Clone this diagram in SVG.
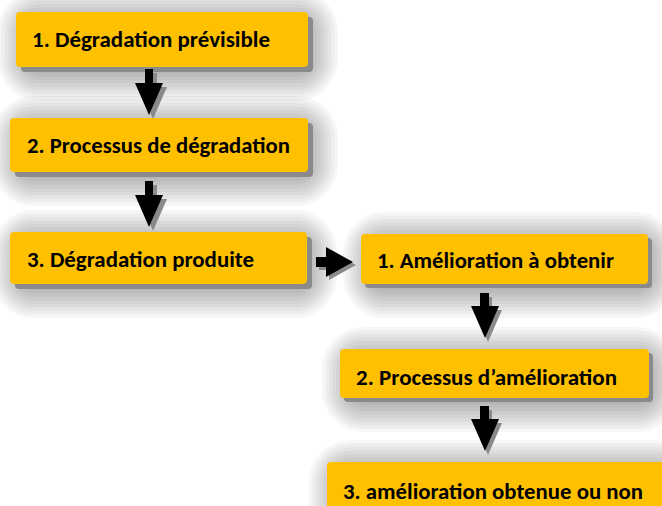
<svg xmlns="http://www.w3.org/2000/svg" width="662" height="506" viewBox="0 0 662 506">
<defs>
<rect id="s1" x="30" y="22" width="276" height="47" rx="10"/>
<rect id="s2" x="24" y="128" width="282" height="46" rx="10"/>
<rect id="s3" x="24" y="242" width="281" height="44" rx="10"/>
<rect id="s4" x="375" y="244" width="271" height="42" rx="10"/>
<rect id="s5" x="354" y="359" width="293" height="41" rx="10"/>
<rect id="s6" x="341" y="472" width="324" height="42" rx="10"/>
<style>
.h{fill:#000;fill-opacity:0.03;stroke:#000;stroke-opacity:0.034;stroke-linejoin:round}
.w1{stroke-width:64}
.w2{stroke-width:57}
.w3{stroke-width:50}
.w4{stroke-width:43}
.w5{stroke-width:36}
.w6{stroke-width:29}
.w7{stroke-width:22}
.w8{stroke-width:15}
.w9{stroke-width:8}
.sh{fill:#8a8a8a}
.box{fill:#FFC000}
.t{font-family:Carlito,Lato,"Liberation Sans",sans-serif;font-weight:bold;font-size:22px;fill:#000}
.arr{fill:#000}
.arrsh{fill:#8a8a8a}
</style>
</defs>
<rect width="662" height="506" fill="#fff"/>

<g id="shadows">
<use href="#s1" class="h w1"/><use href="#s1" class="h w2"/><use href="#s1" class="h w3"/><use href="#s1" class="h w4"/><use href="#s1" class="h w5"/><use href="#s1" class="h w6"/><use href="#s1" class="h w7"/><use href="#s1" class="h w8"/><use href="#s1" class="h w9"/>
<use href="#s2" class="h w1"/><use href="#s2" class="h w2"/><use href="#s2" class="h w3"/><use href="#s2" class="h w4"/><use href="#s2" class="h w5"/><use href="#s2" class="h w6"/><use href="#s2" class="h w7"/><use href="#s2" class="h w8"/><use href="#s2" class="h w9"/>
<use href="#s3" class="h w1"/><use href="#s3" class="h w2"/><use href="#s3" class="h w3"/><use href="#s3" class="h w4"/><use href="#s3" class="h w5"/><use href="#s3" class="h w6"/><use href="#s3" class="h w7"/><use href="#s3" class="h w8"/><use href="#s3" class="h w9"/>
<use href="#s4" class="h w1"/><use href="#s4" class="h w2"/><use href="#s4" class="h w3"/><use href="#s4" class="h w4"/><use href="#s4" class="h w5"/><use href="#s4" class="h w6"/><use href="#s4" class="h w7"/><use href="#s4" class="h w8"/><use href="#s4" class="h w9"/>
<use href="#s5" class="h w1"/><use href="#s5" class="h w2"/><use href="#s5" class="h w3"/><use href="#s5" class="h w4"/><use href="#s5" class="h w5"/><use href="#s5" class="h w6"/><use href="#s5" class="h w7"/><use href="#s5" class="h w8"/><use href="#s5" class="h w9"/>
<use href="#s6" class="h w1"/><use href="#s6" class="h w2"/><use href="#s6" class="h w3"/><use href="#s6" class="h w4"/><use href="#s6" class="h w5"/><use href="#s6" class="h w6"/><use href="#s6" class="h w7"/><use href="#s6" class="h w8"/><use href="#s6" class="h w9"/>
</g>

<g id="node1">
<rect class="sh" x="21" y="17" width="292" height="55" rx="4"/>
<rect class="box" x="16" y="12" width="292" height="55" rx="4"/>
<text class="t" x="32" y="47" textLength="238" lengthAdjust="spacingAndGlyphs">1. Dégradation prévisible</text>
</g>

<g id="node2">
<rect class="sh" x="15" y="123" width="298" height="54" rx="4"/>
<rect class="box" x="10" y="118" width="298" height="54" rx="4"/>
<text class="t" x="27" y="153" textLength="263" lengthAdjust="spacingAndGlyphs">2. Processus de dégradation</text>
</g>

<g id="node3">
<rect class="sh" x="15" y="237" width="297" height="52" rx="4"/>
<rect class="box" x="10" y="232" width="297" height="52" rx="4"/>
<text class="t" x="27" y="267" textLength="227" lengthAdjust="spacingAndGlyphs">3. Dégradation produite</text>
</g>

<g id="node4">
<rect class="sh" x="365" y="238" width="287" height="50" rx="4"/>
<rect class="box" x="361" y="234" width="287" height="50" rx="4"/>
<text class="t" x="377" y="268" textLength="237" lengthAdjust="spacingAndGlyphs">1. Amélioration à obtenir</text>
</g>

<g id="node5">
<rect class="sh" x="344" y="353" width="309" height="49" rx="4"/>
<rect class="box" x="340" y="349" width="309" height="49" rx="4"/>
<text class="t" x="356" y="385" textLength="261" lengthAdjust="spacingAndGlyphs">2. Processus d’amélioration</text>
</g>

<g id="node6">
<rect class="sh" x="331" y="467" width="340" height="50" rx="4"/>
<rect class="box" x="327" y="462" width="340" height="50" rx="4"/>
<text class="t" x="343" y="499" textLength="300" lengthAdjust="spacingAndGlyphs">3. amélioration obtenue ou non</text>
</g>

<g id="connectors">
<path class="arrsh" d="M149,73 h8 v14 h10 l-14,32 l-14,-32 h10 z"/>
<path class="arr" d="M145,69 h8 v14 h10 l-14,32 l-14,-32 h10 z"/>
<path class="arrsh" d="M149,185 h8 v14 h10 l-14,32 l-14,-32 h10 z"/>
<path class="arr" d="M145,181 h8 v14 h10 l-14,32 l-14,-32 h10 z"/>
<path class="arrsh" d="M319,260 h10 v-10 l27,15 l-27,15 v-10 h-10 z"/>
<path class="arr" d="M316,257 h10 v-10 l27,15 l-27,15 v-10 h-10 z"/>
<path class="arrsh" d="M484,297 h8 v13 h10 l-14,32 l-14,-32 h10 z"/>
<path class="arr" d="M480,293 h9 v13 h10 l-14,32 l-14,-32 h9 z"/>
<path class="arrsh" d="M484,410 h8 v13 h10 l-14,32 l-14,-32 h10 z"/>
<path class="arr" d="M480,406 h9 v13 h10 l-14,32 l-14,-32 h9 z"/>
</g>
</svg>
